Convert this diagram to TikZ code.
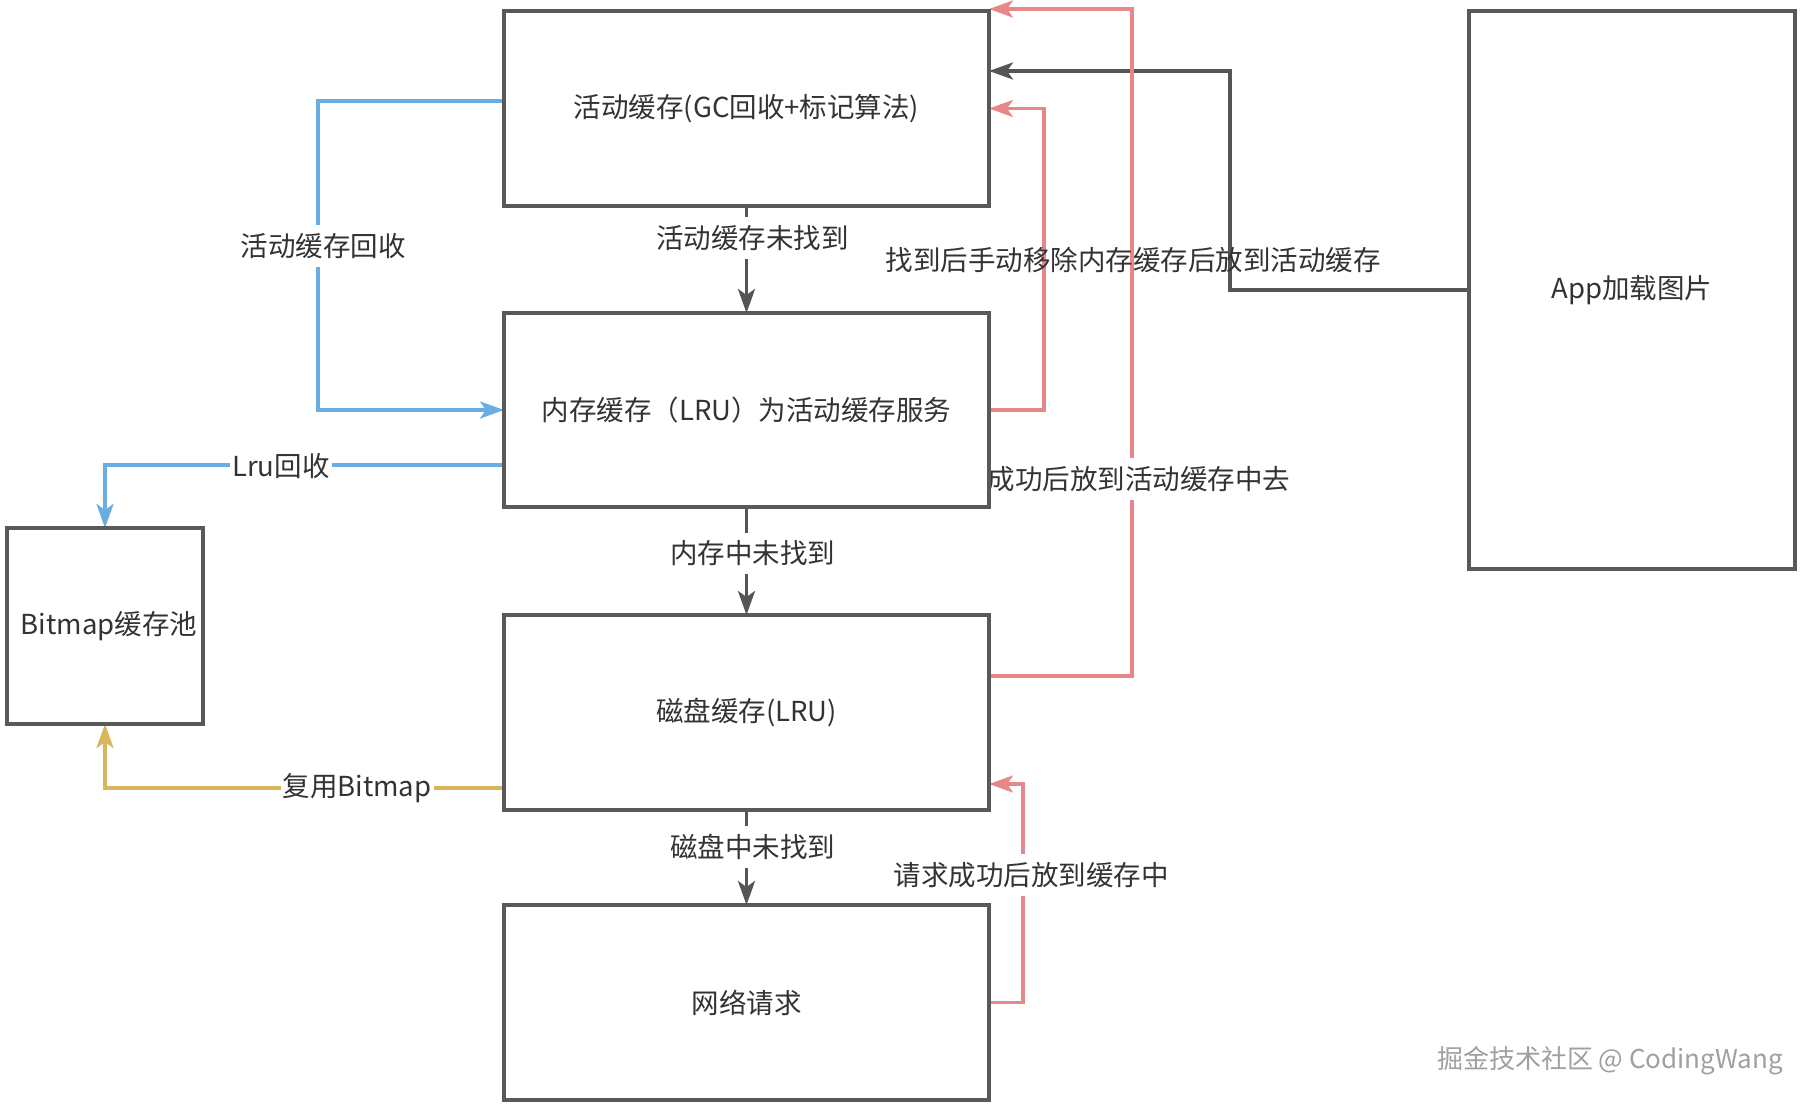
\documentclass[tikz,border=0pt]{standalone}
\usepackage{fontspec}
\newfontfamily\cjk{Noto Sans CJK SC}
\usetikzlibrary{arrows.meta,backgrounds}
\definecolor{boxgray}{HTML}{595959}
\definecolor{arrgray}{HTML}{555555}
\definecolor{txtgray}{HTML}{333333}
\definecolor{lblue}{HTML}{6AADE0}
\definecolor{lred}{HTML}{E8878A}
\definecolor{lyellow}{HTML}{D9B65C}
\definecolor{wmgray}{HTML}{A0A0A0}
\tikzset{
  cbox/.style={draw=boxgray, line width=3.4pt, rectangle, inner sep=0pt, outer sep=0pt,
    text=txtgray, font=\cjk\fontsize{27.5}{33}\selectfont},
  tip/.style={-{Stealth[length=24pt,width=17pt,inset=6pt]}},
  conn/.style={line width=3.3pt, line join=miter, tip},
  darr/.style={conn, draw=arrgray},
  rarr/.style={conn, draw=lred},
  barr/.style={conn, draw=lblue},
  yarr/.style={conn, draw=lyellow},
  lbl/.style={fill=white, inner xsep=2pt, inner ysep=8pt, text=txtgray, font=\cjk\fontsize{27.5}{33}\selectfont},
  freelbl/.style={inner sep=1pt, text=txtgray, font=\cjk\fontsize{27.5}{33}\selectfont},
}
\begin{document}
\begin{tikzpicture}[x=1pt,y=-1pt]
\useasboundingbox (0,0) rectangle (1806,1105);
% boxes
\node[cbox, minimum width=485pt, minimum height=195pt] (b1) at (746.5,108.5) {活动缓存(GC回收+标记算法)};
\node[cbox, minimum width=485pt, minimum height=194pt] (b2) at (746.5,410) {内存缓存（LRU）为活动缓存服务};
\node[cbox, minimum width=485pt, minimum height=195pt] (b3) at (746.5,712.5) {磁盘缓存(LRU)};
\node[cbox, minimum width=485pt, minimum height=195pt] (b4) at (746.5,1002.5) {网络请求};
\node[cbox, minimum width=196pt, minimum height=196pt] (bm) at (105,626) {\hspace*{8pt}Bitmap缓存池};
\node[cbox, minimum width=326pt, minimum height=558pt] (app) at (1632,290) {App加载图片};

\begin{scope}[on background layer]
\fill[white] (0,0) rectangle (1806,1105);
% vertical flow
\draw[darr] (b1) -- node[lbl, pos=0.3, xshift=6pt] {活动缓存未找到} (b2);
\draw[darr] (b2) -- node[lbl, pos=0.43, xshift=6pt] {内存中未找到} (b3);
\draw[darr] (b3) -- node[lbl, pos=0.39, xshift=6pt] {磁盘中未找到} (b4);
% app to active cache
\draw[darr] (app.west) -- ++(-239,0) |- ([yshift=37.5pt]b1.east);
% red returns
\draw[rarr] (b2.east) -- ++(55,0) |- (b1.east);
\draw[rarr] ([yshift=36.5pt]b3.east) -- ++(143,0) |- ([yshift=2pt]b1.north east);
\draw[rarr] (b4.east) -- ++(34,0) |- ([yshift=-71.5pt]b3.east);
% blue
\draw[barr] ([yshift=7.5pt]b1.west) -- ++(-186,0) |- (b2.west);
\draw[barr] (b2.west) -- ([yshift=-55pt]b2.west) -| (bm.north);
% yellow
\draw[yarr] ([yshift=-75.5pt]b3.west) -| (bm.south);
% labels
\node[lbl] (l1) at (323,246) {活动缓存回收};
\node[lbl] (l2) at (281,466) {Lru回收};
\node[lbl] (l3) at (357,788) {复用Bitmap};
\node[lbl] (l4) at (1139,479) {成功后放到活动缓存中去};
\node[lbl] (l5) at (1031,875) {请求成功后放到缓存中};
\end{scope}
\node[freelbl] (l6) at (1133,260) {找到后手动移除内存缓存后放到活动缓存};
\node[inner sep=0pt, text=wmgray, font=\cjk\fontsize{26}{30}\selectfont] (wm) at (1610,1061) {掘金技术社区 @ CodingWang};
\end{tikzpicture}
\end{document}
